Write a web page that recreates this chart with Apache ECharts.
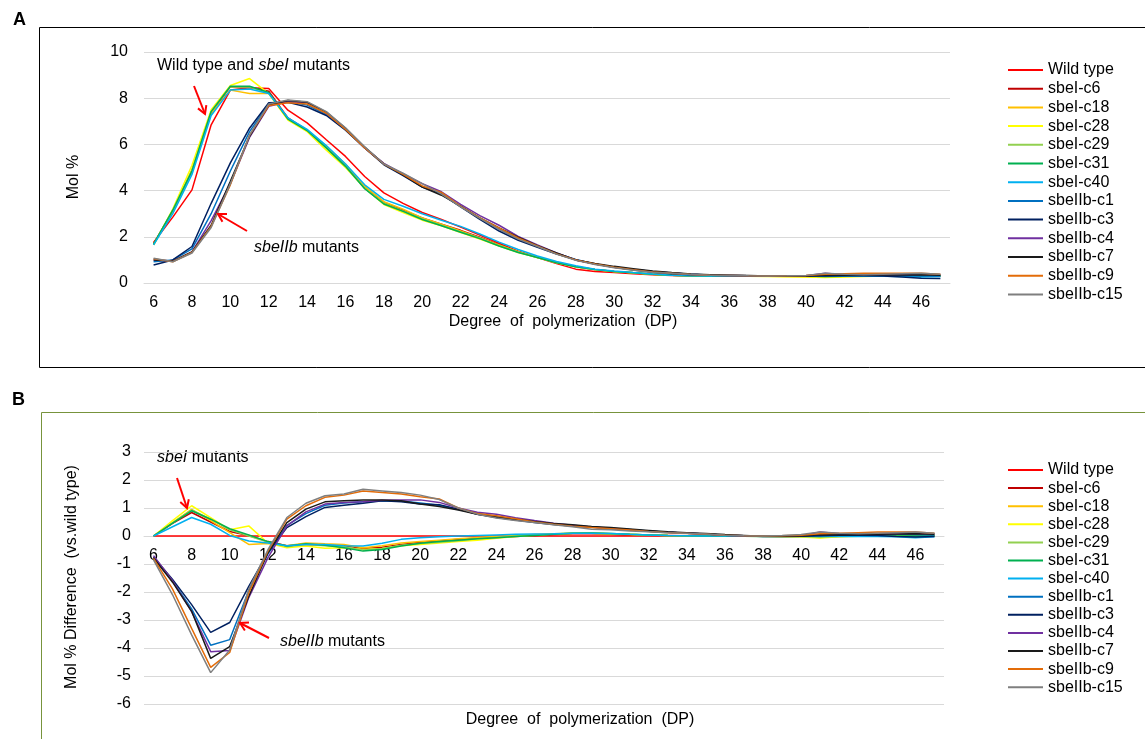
<!DOCTYPE html>
<html>
<head>
<meta charset="utf-8">
<script src="https://cdn.jsdelivr.net/npm/echarts@6/dist/echarts.min.js"></script>
<style>
html,body{margin:0;padding:0;background:#fff;}
#c{width:1145px;height:739px;}
</style>
</head>
<body>
<div id="c"></div>
<script>
// ---------- DATA ----------
const categories = ['6','7','8','9','10','11','12','13','14','15','16','17','18','19','20','21','22','23','24','25','26','27','28','29','30','31','32','33','34','35','36','37','38','39','40','41','42','43','44','45','46','47'];
const seriesNames = ['Wild type','sbeI-c6','sbeI-c18','sbeI-c28','sbeI-c29','sbeI-c31','sbeI-c40','sbeIIb-c1','sbeIIb-c3','sbeIIb-c4','sbeIIb-c7','sbeIIb-c9','sbeIIb-c15'];
const seriesColors = ['#FF0000','#C00000','#FFC000','#FFFF00','#92D050','#00B050','#00B0F0','#0070C0','#002060','#7030A0','#1A1A1A','#E36C09','#7F7F7F'];

// Panel A: Mol %
const molWT = [1.75,2.85,4.03,6.85,8.35,8.45,8.42,7.48,6.93,6.20, 5.48,4.61,3.90,3.45,3.05,2.75,2.42,2.08,1.72,1.38, 1.10,0.84,0.60,0.50,0.45,0.40,0.36,0.32,0.30,0.30, 0.30,0.30,0.30,0.30,0.30,0.30,0.30,0.30,0.30,0.30,0.30,0.30];
const molC6 = [1.70,3.12,4.85,7.35,8.50,8.48,8.30,7.15,6.62,5.90, 5.12,4.15,3.50,3.15,2.82,2.55,2.28,1.98,1.66,1.36, 1.12,0.90,0.70,0.58,0.50,0.44,0.38,0.34,0.31,0.30, 0.30,0.30,0.30,0.30,0.30,0.30,0.30,0.30,0.31,0.31,0.30,0.30];
const molC18 = [1.65,3.10,4.92,7.35,8.35,8.20,8.20,7.10,6.60,5.92, 5.15,4.18,3.52,3.20,2.82,2.55,2.25,1.95,1.65,1.35, 1.10,0.90,0.72,0.58,0.50,0.44,0.38,0.34,0.31,0.30, 0.30,0.30,0.29,0.28,0.27,0.26,0.28,0.30,0.31,0.31,0.30,0.30];
const molC28 = [1.65,3.20,5.10,7.50,8.55,8.85,8.20,7.05,6.55,5.75, 5.00,4.10,3.40,3.05,2.72,2.48,2.18,1.90,1.60,1.32, 1.10,0.88,0.70,0.58,0.50,0.44,0.38,0.34,0.31,0.30, 0.30,0.29,0.28,0.27,0.26,0.24,0.26,0.28,0.30,0.30,0.30,0.30];
const molC29 = [1.66,3.15,4.88,7.42,8.50,8.48,8.22,7.12,6.60,5.85, 5.08,4.10,3.45,3.12,2.78,2.50,2.22,1.95,1.62,1.34, 1.10,0.88,0.70,0.58,0.50,0.44,0.38,0.34,0.31,0.30, 0.30,0.30,0.30,0.29,0.29,0.28,0.29,0.30,0.30,0.30,0.30,0.30];
const molC31 = [1.68,3.15,4.85,7.42,8.52,8.52,8.25,7.10,6.60,5.85, 5.05,4.08,3.42,3.10,2.75,2.48,2.20,1.92,1.60,1.32, 1.10,0.88,0.70,0.58,0.50,0.44,0.38,0.34,0.31,0.30, 0.30,0.30,0.30,0.30,0.30,0.28,0.29,0.30,0.30,0.30,0.30,0.30];
const molC40 = [1.65,3.00,4.70,7.25,8.35,8.40,8.20,7.15,6.65,5.95, 5.15,4.25,3.62,3.32,3.00,2.72,2.45,2.12,1.77,1.45, 1.17,0.93,0.75,0.60,0.52,0.45,0.39,0.34,0.31,0.30, 0.30,0.30,0.29,0.29,0.29,0.29,0.29,0.29,0.29,0.28,0.26,0.28];
const molB1 = [0.92,1.00,1.48,3.00,4.85,6.55,7.75,7.85,7.70,7.30, 6.65,5.85,5.15,4.68,4.18,3.85,3.32,2.80,2.32,1.90, 1.58,1.28,1.02,0.82,0.68,0.58,0.50,0.43,0.38,0.35, 0.33,0.31,0.30,0.30,0.30,0.31,0.32,0.32,0.33,0.33,0.30,0.30];
const molB3 = [0.78,1.00,1.58,3.45,5.20,6.70,7.80,7.82,7.62,7.25, 6.62,5.85,5.12,4.65,4.15,3.85,3.30,2.75,2.25,1.85, 1.55,1.25,1.00,0.82,0.68,0.56,0.47,0.40,0.36,0.34, 0.33,0.31,0.30,0.30,0.30,0.30,0.31,0.31,0.30,0.26,0.21,0.20];
const molB4 = [1.00,0.95,1.35,2.70,4.30,6.30,7.65,7.85,7.80,7.35, 6.68,5.85,5.18,4.72,4.30,3.95,3.40,2.92,2.50,2.02, 1.65,1.30,1.00,0.82,0.68,0.58,0.50,0.43,0.38,0.34, 0.33,0.31,0.30,0.30,0.31,0.42,0.36,0.35,0.36,0.37,0.38,0.36];
const molB7 = [1.00,0.95,1.35,2.50,4.40,6.35,7.70,7.90,7.82,7.40, 6.70,5.88,5.15,4.68,4.15,3.80,3.33,2.82,2.38,1.98, 1.62,1.30,1.00,0.84,0.72,0.62,0.52,0.45,0.39,0.36, 0.34,0.32,0.30,0.29,0.30,0.35,0.34,0.35,0.35,0.35,0.36,0.34];
const molB9 = [1.05,0.92,1.32,2.45,4.25,6.40,7.68,7.80,7.75,7.35, 6.65,5.85,5.15,4.70,4.20,3.92,3.32,2.82,2.38,1.95, 1.60,1.26,1.00,0.82,0.68,0.57,0.48,0.42,0.37,0.34, 0.33,0.31,0.30,0.31,0.33,0.38,0.40,0.42,0.42,0.42,0.42,0.38];
const molB15 = [1.07,0.92,1.30,2.40,4.30,6.40,7.75,7.92,7.85,7.42, 6.72,5.90,5.15,4.75,4.30,3.85,3.30,2.80,2.32,1.90, 1.58,1.25,0.98,0.80,0.66,0.55,0.47,0.42,0.37,0.34, 0.33,0.31,0.30,0.31,0.33,0.42,0.38,0.36,0.38,0.40,0.42,0.38];

// Panel B: Mol % difference vs. wild type
const difWT = [0,0,0,0,0,0,0,0,0,0, 0,0,0,0,0,0,0,0,0,0, 0,0,0,0,0,0,0,0,0,0, 0,0,0,0,0,0,0,0,0,0,0,0];
const difC6 = [0,0.45,0.84,0.50,0.16,0.02,-0.20,-0.35,-0.30,-0.32, -0.35,-0.45,-0.40,-0.30,-0.22,-0.18,-0.12,-0.08,-0.05,-0.02, 0.02,0.05,0.08,0.08,0.06,0.04,0.03,0.02,0.01,0, 0,0,0,0,0,0,0,0,0.01,0.01,0,0];
const difC18 = [0,0.48,0.95,0.55,0.12,-0.30,-0.27,-0.35,-0.25,-0.28, -0.30,-0.42,-0.35,-0.25,-0.20,-0.15,-0.10,-0.05,-0.02,0.02, 0.05,0.08,0.10,0.10,0.08,0.05,0.04,0.02,0.01,0, 0,0,-0.01,-0.02,-0.03,-0.05,-0.02,0,0.02,0.02,0.01,0];
const difC28 = [0,0.55,1.08,0.66,0.22,0.36,-0.25,-0.42,-0.36,-0.44, -0.42,-0.48,-0.45,-0.35,-0.30,-0.25,-0.20,-0.15,-0.08,-0.02, 0.03,0.07,0.10,0.10,0.08,0.06,0.04,0.02,0.01,0, 0,-0.01,-0.02,-0.03,-0.04,-0.07,-0.03,-0.01,0,0.01,0,0];
const difC29 = [0,0.47,0.93,0.60,0.22,0,-0.22,-0.38,-0.30,-0.35, -0.38,-0.50,-0.45,-0.33,-0.27,-0.22,-0.17,-0.10,-0.05,0, 0.04,0.07,0.10,0.10,0.08,0.06,0.04,0.02,0.01,0, 0,0,0,-0.01,-0.01,-0.02,-0.01,0,0,0,0,0];
const difC31 = [0,0.46,0.90,0.60,0.26,0.04,-0.20,-0.36,-0.28,-0.33, -0.42,-0.54,-0.48,-0.36,-0.26,-0.20,-0.15,-0.10,-0.06,-0.02, 0.02,0.06,0.10,0.11,0.09,0.06,0.04,0.02,0.01,0, 0,0,0,0,0,-0.02,0,0,0,0,0,0];
const difC40 = [0,0.33,0.66,0.42,0.02,-0.18,-0.25,-0.35,-0.30,-0.30, -0.35,-0.36,-0.26,-0.12,-0.06,-0.03,0,0.02,0.04,0.06, 0.07,0.08,0.10,0.10,0.09,0.06,0.04,0.02,0.01,0, 0,-0.01,-0.02,-0.02,-0.02,-0.02,-0.02,-0.02,-0.02,-0.03,-0.06,-0.03];
const difB1 = [-0.80,-1.60,-2.60,-3.90,-3.70,-1.95,-0.65,0.38,0.80,1.10, 1.18,1.22,1.25,1.25,1.18,1.10,0.95,0.80,0.70,0.60, 0.50,0.43,0.37,0.32,0.28,0.23,0.18,0.13,0.10,0.07, 0.03,0.01,-0.01,-0.01,0,0.04,0.04,0.04,0.06,0.07,0.05,0.04];
const difB3 = [-0.75,-1.55,-2.45,-3.44,-3.09,-1.80,-0.60,0.30,0.69,1.02, 1.10,1.17,1.26,1.22,1.14,1.12,0.96,0.78,0.66,0.57, 0.48,0.41,0.36,0.31,0.27,0.22,0.17,0.13,0.10,0.07, 0.03,0.01,-0.02,-0.02,-0.01,0.01,0.03,0.03,0.02,-0.02,-0.04,-0.02];
const difB4 = [-0.70,-1.60,-2.70,-4.13,-4.09,-2.20,-0.78,0.36,0.86,1.14, 1.20,1.22,1.28,1.29,1.29,1.20,1.00,0.85,0.78,0.65, 0.55,0.46,0.38,0.32,0.27,0.22,0.17,0.13,0.10,0.07, 0.03,0.01,-0.01,-0.01,0.01,0.14,0.08,0.06,0.07,0.08,0.10,0.08];
const difB7 = [-0.78,-1.65,-2.69,-4.37,-3.95,-2.15,-0.60,0.48,0.96,1.22, 1.26,1.29,1.29,1.26,1.14,1.05,0.93,0.78,0.68,0.60, 0.52,0.45,0.40,0.34,0.30,0.25,0.20,0.15,0.12,0.09, 0.05,0.02,-0.01,-0.01,0,0.05,0.04,0.05,0.06,0.07,0.08,0.06];
const difB9 = [-0.80,-1.90,-3.30,-4.69,-4.16,-2.03,-0.55,0.60,1.08,1.38, 1.46,1.61,1.55,1.50,1.40,1.32,1.00,0.80,0.72,0.62, 0.50,0.42,0.35,0.30,0.26,0.21,0.16,0.12,0.09,0.06, 0.03,0.01,0,0.01,0.03,0.08,0.10,0.12,0.14,0.14,0.14,0.10];
const difB15 = [-0.85,-2.10,-3.53,-4.88,-4.07,-1.90,-0.50,0.66,1.17,1.44, 1.50,1.67,1.61,1.55,1.46,1.30,1.00,0.78,0.64,0.55, 0.48,0.40,0.33,0.24,0.22,0.18,0.15,0.12,0.10,0.07, 0.03,0.01,0,0.02,0.05,0.14,0.10,0.08,0.10,0.12,0.14,0.10];

const molData = [molWT,molC6,molC18,molC28,molC29,molC31,molC40,molB1,molB3,molB4,molB7,molB9,molB15];
const difData = [difWT,difC6,difC18,difC28,difC29,difC31,difC40,difB1,difB3,difB4,difB7,difB9,difB15];

// ---------- CHART ----------
const FONT = "'Liberation Sans', Arial, sans-serif";
const chart = echarts.init(document.getElementById('c'), null, {renderer:'canvas'});

const series = [];
seriesNames.forEach((n,i)=>{
  series.push({name:n,type:'line',xAxisIndex:0,yAxisIndex:0,data:molData[i],symbol:'none',
    lineStyle:{width:1.5,color:seriesColors[i]},itemStyle:{color:seriesColors[i]},animation:false});
});
seriesNames.forEach((n,i)=>{
  series.push({name:n,type:'line',xAxisIndex:1,yAxisIndex:1,data:difData[i],symbol:'none',
    lineStyle:{width:1.5,color:seriesColors[i]},itemStyle:{color:seriesColors[i]},animation:false});
});

function arrow(x1,y1,x2,y2,col){
  const dx=x2-x1, dy=y2-y1, L=Math.sqrt(dx*dx+dy*dy), ux=dx/L, uy=dy/L;
  const h=9, a=Math.PI/6;
  const r=(vx,vy,t)=>[vx*Math.cos(t)-vy*Math.sin(t), vx*Math.sin(t)+vy*Math.cos(t)];
  const p1=r(ux,uy,a), p2=r(ux,uy,-a);
  return [
    {type:'line',shape:{x1:x1,y1:y1,x2:x2,y2:y2},style:{stroke:col,lineWidth:2},z:100},
    {type:'polyline',shape:{points:[[x2-h*p1[0],y2-h*p1[1]],[x2,y2],[x2-h*p2[0],y2-h*p2[1]]]},style:{stroke:col,lineWidth:2,fill:null},z:100}
  ];
}

const rich = {n:{fontSize:16,fontFamily:FONT,color:'#000'}, i:{fontSize:16,fontFamily:FONT,fontStyle:'italic',color:'#000'}};

const graphics = [
  {type:'rect',shape:{x:39.5,y:27.5,width:1200,height:340},style:{fill:null,stroke:'#000',lineWidth:1},z:-10},
  {type:'rect',shape:{x:41.5,y:412.5,width:1200,height:400},style:{fill:null,stroke:'#77933C',lineWidth:1},z:-10},
  {type:'text',x:13,y:20,style:{text:'A',font:"bold 18px "+FONT,fill:'#000',verticalAlign:'middle'}},
  {type:'text',x:12,y:400,style:{text:'B',font:"bold 18px "+FONT,fill:'#000',verticalAlign:'middle'}},
  {type:'text',x:74,y:177,rotation:Math.PI/2,style:{text:'Mol %',font:"16px "+FONT,fill:'#000',align:'center',verticalAlign:'middle'}},
  {type:'text',x:72,y:577,rotation:Math.PI/2,style:{text:'Mol % Difference  (vs.wild type)',font:"16px "+FONT,fill:'#000',align:'center',verticalAlign:'middle'}},
  {type:'text',x:563,y:322,style:{text:'Degree  of  polymerization  (DP)',font:"16px "+FONT,fill:'#000',align:'center',verticalAlign:'middle'}},
  {type:'text',x:580,y:720,style:{text:'Degree  of  polymerization  (DP)',font:"16px "+FONT,fill:'#000',align:'center',verticalAlign:'middle'}},
  {type:'text',x:157,y:66,style:{text:'{n|Wild type and }{i|sbeI}{n| mutants}',rich:rich,verticalAlign:'middle'}},
  {type:'text',x:254,y:248,style:{text:'{i|sbeIIb}{n| mutants}',rich:rich,verticalAlign:'middle'}},
  {type:'text',x:157,y:458,style:{text:'{i|sbeI}{n| mutants}',rich:rich,verticalAlign:'middle'}},
  {type:'text',x:280,y:642,style:{text:'{i|sbeIIb}{n| mutants}',rich:rich,verticalAlign:'middle'}}
].concat(arrow(194,86,205,114,'#FF0000'))
 .concat(arrow(247,231,218,214,'#FF0000'))
 .concat(arrow(177,478,187,508,'#FF0000'))
 .concat(arrow(269,638,240,623,'#FF0000'));

const legendBase = {
  orient:'vertical', left:1008, data:seriesNames, icon:'rect', itemWidth:35, itemHeight:2,
  itemGap:2.7, padding:0, selectedMode:false,
  textStyle:{fontSize:16,fontFamily:FONT,color:'#000',lineHeight:16,padding:[0,0,0,0]}
};

chart.setOption({
  animation:false,
  backgroundColor:'#fff',
  textStyle:{fontFamily:FONT},
  grid:[
    {left:144,top:52,width:806,height:231,containLabel:false},
    {left:144,top:452,width:800,height:252,containLabel:false}
  ],
  legend:[
    Object.assign({},legendBase,{top:62}),
    Object.assign({},legendBase,{top:462,itemGap:2.1})
  ],
  xAxis:[
    {gridIndex:0,type:'category',data:categories,boundaryGap:true,axisTick:{show:false},
     axisLine:{lineStyle:{color:'#D9D9D9'}},
     axisLabel:{interval:1,color:'#000',fontSize:16,fontFamily:FONT,margin:12},splitLine:{show:false}},
    {gridIndex:1,type:'category',data:categories,boundaryGap:true,axisTick:{show:false},
     position:'bottom',offset:-168,
     axisLine:{onZero:false,lineStyle:{color:'#D9D9D9'}},
     axisLabel:{interval:1,color:'#000',fontSize:16,fontFamily:FONT,margin:12},splitLine:{show:false}}
  ],
  yAxis:[
    {gridIndex:0,type:'value',min:0,max:10,interval:2,axisLine:{show:false},axisTick:{show:false},
     axisLabel:{color:'#000',fontSize:16,fontFamily:FONT,margin:16},
     splitLine:{lineStyle:{color:'#D9D9D9',width:1}}},
    {gridIndex:1,type:'value',min:-6,max:3,interval:1,axisLine:{show:false},axisTick:{show:false},
     axisLabel:{color:'#000',fontSize:16,fontFamily:FONT,margin:13},
     splitLine:{lineStyle:{color:'#D9D9D9',width:1}}}
  ],
  series:series,
  graphic:graphics
});
</script>
</body>
</html>
